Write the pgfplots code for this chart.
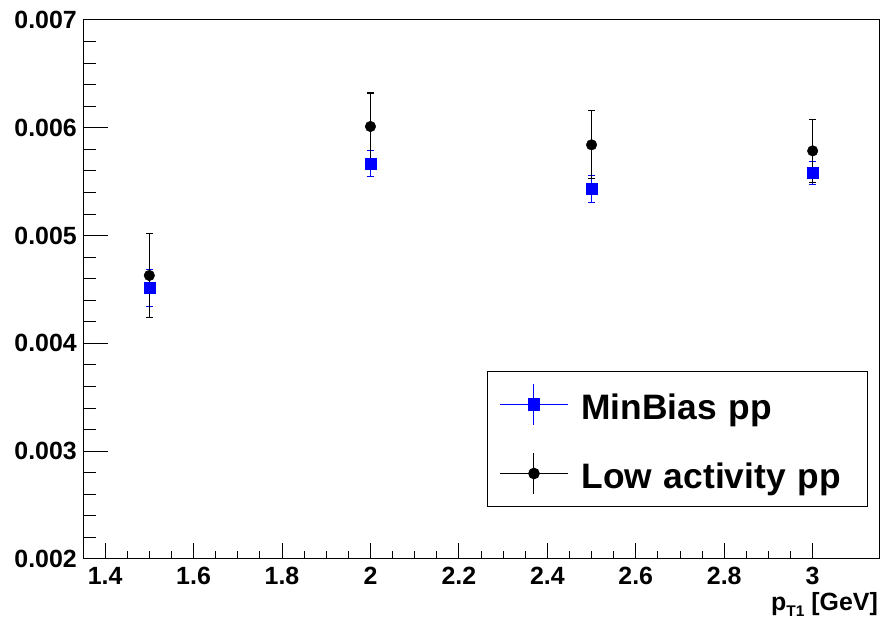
\documentclass[border=0pt]{standalone}
\usepackage{pgfplots}
\usepackage{pgfplotstable}
\pgfplotsset{compat=1.18}
\usepackage{fontspec}
\setmainfont{Liberation Sans}

% Ratio vs leading-track pT, two event selections
\pgfplotstableread{
x    y        ey
1.5  0.004514 0.00017
2.0  0.005670 0.00012
2.5  0.005432 0.000125
3.0  0.005581 0.00011
}\minbias
\pgfplotstableread{
x    y        ey
1.5  0.004630 0.00039
2.0  0.006012 0.00031
2.5  0.005842 0.000315
3.0  0.005786 0.000294
}\lowact

\begin{document}
\begin{tikzpicture}
\pgfplotsset{
  rootframe/.style={
    width=796bp, height=539bp, scale only axis,
    xmin=1.35, xmax=3.15, ymin=0.002, ymax=0.007,
    axis line style={line width=1bp, black},
    tick style={line width=1bp, black},
    tick align=inside,
    xtick pos=bottom, ytick pos=left,
    scaled x ticks=false, scaled y ticks=false,
    /pgf/number format/assume math mode=true,
  },
}
\begin{axis}[rootframe,
  xtick={1.4,1.6,1.8,2,2.2,2.4,2.6,2.8,3},
  minor x tick num=3,
  ytick=\empty,
  major tick length=16bp, minor tick length=8bp,
  xticklabel style={font=\fontsize{25}{25}\selectfont\bfseries, inner sep=0pt, yshift=-8bp,
    /pgf/number format/.cd, fixed, precision=1},
  xlabel={p\raisebox{-6bp}{\fontsize{15.5}{15.5}\selectfont T1} [GeV]},
  xlabel style={at={(axis description cs:1,0)}, anchor=base east, inner sep=0pt,
    yshift=-52bp, xshift=-1bp, font=\fontsize{25}{25}\selectfont\bfseries},
  legend cell align=left,
  legend style={at={(0.5075,0.3488)}, anchor=north west, draw=black, line width=1bp,
    inner xsep=12bp, inner ysep=8.5bp, row sep=20bp,
    /tikz/every odd column/.append style={column sep=13bp},
    nodes={font=\fontsize{35.5}{36}\selectfont\bfseries, inner sep=0pt,
      text height=40bp, text depth=9bp, text width=274bp, align=left}},
  legend image code/.code={
    \draw[#1, mark=none, line width=1bp] (0bp,0bp) -- (68bp,0bp) (34bp,-20.5bp) -- (34bp,20.5bp);
    \draw[#1, only marks] plot coordinates {(34bp,0bp)};
  },
]
\addplot[blue, only marks, mark=square*, mark size=5.6bp,
  error bars/.cd, y dir=both, y explicit,
  error bar style={line width=1bp, blue},
  error mark options={rotate=90, mark size=3.5bp, line width=1bp, blue}]
  table[x=x, y=y, y error=ey] {\minbias};
\addlegendentry{MinBias pp}
\addplot[black, only marks, mark=*, mark size=5.3bp,
  error bars/.cd, y dir=both, y explicit,
  error bar style={line width=1.2bp, black},
  error mark options={rotate=90, mark size=3.5bp, line width=1.2bp, black}]
  table[x=x, y=y, y error=ey] {\lowact};
\addlegendentry{Low activity pp}
\end{axis}
\begin{axis}[rootframe,
  xtick=\empty,
  ytick={0.002,0.003,0.004,0.005,0.006,0.007},
  minor y tick num=4,
  major tick length=25bp, minor tick length=13bp,
  yticklabel style={font=\fontsize{25}{25}\selectfont\bfseries, inner sep=0pt, xshift=-6bp,
    /pgf/number format/.cd, fixed, fixed zerofill, precision=3},
]
\end{axis}
\path ([shift={(-83bp,-67bp)}]current axis.south west) rectangle ([shift={(5bp,20bp)}]current axis.north east);
\end{tikzpicture}
\end{document}
